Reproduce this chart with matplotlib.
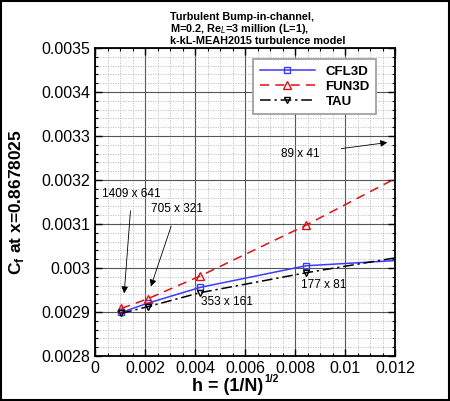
import numpy as np
import matplotlib
matplotlib.use("Agg")
import matplotlib.pyplot as plt
from matplotlib.ticker import MultipleLocator
from matplotlib.patches import Rectangle

plt.rcParams['font.family'] = ['Liberation Sans', 'DejaVu Sans']
plt.rcParams['mathtext.fontset'] = 'custom'
plt.rcParams['mathtext.rm'] = 'Liberation Sans'
plt.rcParams['mathtext.bf'] = 'Liberation Sans:bold'

# grid sizes and h = sqrt(1/N)
grids = ["1409 x 641", "705 x 321", "353 x 161", "177 x 81", "89 x 41"]
h = [0.001053, 0.002107, 0.004214, 0.008427, 0.016855]

cfl3d = [0.002899, 0.002920, 0.002956, 0.003005, 0.003033]
fun3d = [0.002908, 0.002930, 0.002982, 0.003097, 0.003347]
tau = [0.002897, 0.002912, 0.002944, 0.002989, 0.003069]

fig = plt.figure(figsize=(4.5, 4.01), dpi=100)
ax = fig.add_axes([95/450, 1-356/401, 300/450, 308/401])

ax.plot(h, cfl3d, color='#3b3bff', lw=1.1, ls='-', marker='s', ms=5,
        mfc='none', mec='#3b3bff', mew=1.0, label='CFL3D')
ax.plot(h, fun3d, color='#dd1111', lw=1.1, ls=(0, (6, 4)), marker='^', ms=6,
        mfc='none', mec='#dd1111', mew=1.0, label='FUN3D')
ax.plot(h, tau, color='black', lw=1.1, ls=(0, (7, 2.5, 1.5, 2.5)), marker='v', ms=5,
        mfc='none', mec='black', mew=1.0, label='TAU')

ax.set_xlim(0, 0.012)
ax.set_ylim(0.0028, 0.0035)
ax.xaxis.set_minor_locator(MultipleLocator(0.0005))
ax.yaxis.set_minor_locator(MultipleLocator(0.00002))
ax.set_xticks([0, 0.002, 0.004, 0.006, 0.008, 0.01, 0.012])
ax.set_xticklabels(['0', '0.002', '0.004', '0.006', '0.008', '0.01', '0.012'])
ax.set_yticks([0.0028, 0.0029, 0.003, 0.0031, 0.0032, 0.0033, 0.0034, 0.0035])
ax.set_yticklabels(['0.0028', '0.0029', '0.003', '0.0031', '0.0032', '0.0033', '0.0034', '0.0035'])

ax.grid(which='major', color='#555555', lw=0.8, ls='-')
ax.grid(which='minor', color='#bbbbbb', lw=0.6, ls=(0, (1.5, 1.5)))
ax.set_axisbelow(True)
ax.tick_params(which='both', direction='in', top=True, right=True, labelsize=11.5)
ax.tick_params(which='major', length=5, width=1)
ax.tick_params(which='minor', length=2.5, width=0.8)
for s in ax.spines.values():
    s.set_linewidth(1.3)

# x label: main part plus a small superscript, as in the reference
fig.text(263/450, 1 - 391/401, 'h = (1/N)', fontsize=13, fontweight='bold',
         ha='right', va='baseline')
fig.text(264/450, 1 - 382/401, '1/2', fontsize=7.5, fontweight='bold',
         ha='left', va='baseline')
ax.set_ylabel(r'C$_{\mathbf{f}}$ at x=0.8678025', fontsize=12.5, fontweight='bold')
ax.yaxis.set_label_coords(-(95-17)/300, 0.5)
ax.yaxis.label.set_va('center')

fig.text(170/450, 1-29/401, 'Turbulent Bump-in-channel,\nM=0.2, Re$_{L}$=3 million (L=1),\nk-kL-MEAH2015 turbulence model',
         ha='left', va='center', fontsize=7.8, fontweight='bold', linespacing=1.0)

leg = ax.legend(loc='upper left', bbox_to_anchor=((253-95)/300, (356-59)/308),
                prop={'weight': 'bold', 'size': 9.5}, fancybox=False,
                edgecolor='#999999', framealpha=1, handlelength=4.2,
                borderpad=0.5, labelspacing=0.2, borderaxespad=0, markerscale=0.85)
leg.get_frame().set_linewidth(1.2)

# annotations
ax.annotate(grids[4], xy=(0.0118, 0.003286), xytext=(0.0082, 0.003259),
            fontsize=8.5, ha='center', va='center',
            arrowprops=dict(arrowstyle='-|>', color='black', lw=0.6, shrinkA=14, mutation_scale=10))
ax.annotate(grids[0], xy=(0.00116, 0.002936), xytext=(0.00147, 0.003169),
            fontsize=8.5, ha='center', va='center',
            arrowprops=dict(arrowstyle='-|>', color='black', lw=0.6, shrinkA=6, mutation_scale=10))
ax.annotate(grids[1], xy=(0.0022, 0.002952), xytext=(0.00327, 0.003133),
            fontsize=8.5, ha='center', va='center',
            arrowprops=dict(arrowstyle='-|>', color='black', lw=0.6, shrinkA=6, mutation_scale=10))
ax.text(0.00527, 0.002923, grids[2], fontsize=8.5, ha='center', va='center')
ax.text(0.00913, 0.002961, grids[3], fontsize=8.5, ha='center', va='center')

fig.patches.append(Rectangle((0.002, 0.002), 0.996, 0.996, transform=fig.transFigure,
                             fill=False, edgecolor='black', lw=1.5))

fig.savefig('out.png', dpi=100)
